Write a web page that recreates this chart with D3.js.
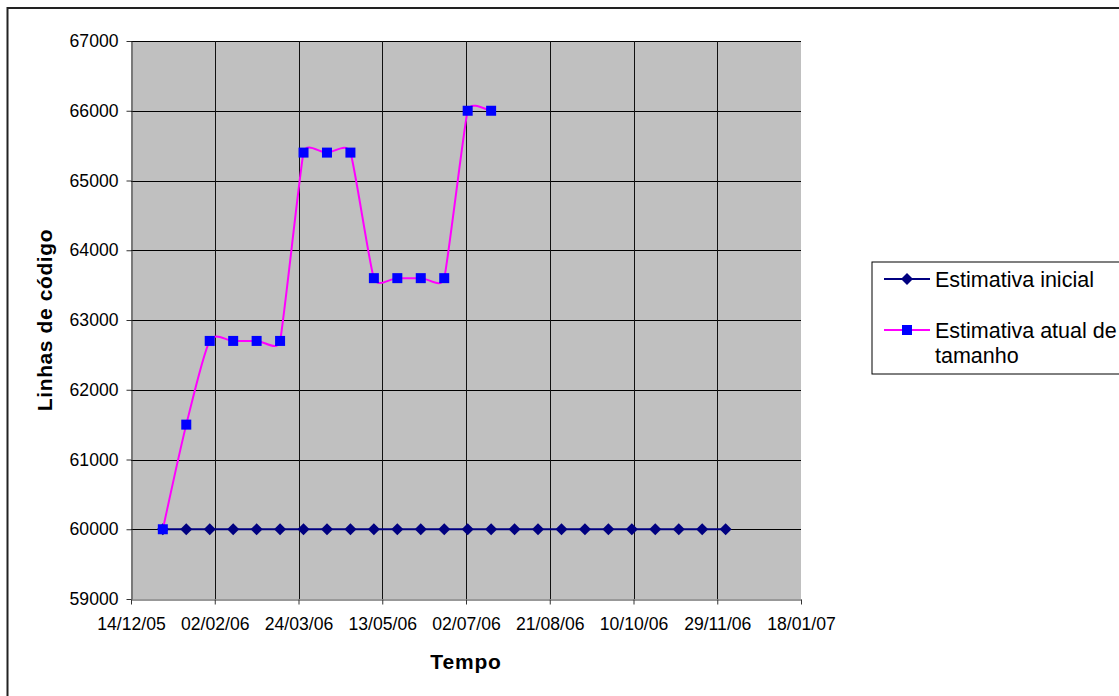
<!DOCTYPE html>
<html>
<head>
<meta charset="utf-8">
<script src="https://cdn.jsdelivr.net/npm/d3@7"></script>
<style>
  html, body { margin: 0; padding: 0; background: #fff; }
  svg { display: block; font-family: "Liberation Sans", Arial, sans-serif; }
</style>
</head>
<body>
<svg id="chart" width="1119" height="696"></svg>
<script>
// Size estimates (lines of code) sampled every two weeks
const tickLabels = ["14/12/05", "02/02/06", "24/03/06", "13/05/06", "02/07/06",
                    "21/08/06", "10/10/06", "29/11/06", "18/01/07"];
const yTicks = [59000, 60000, 61000, 62000, 63000, 64000, 65000, 66000, 67000];

const datesInicial = ["02/01/06", "16/01/06", "30/01/06", "13/02/06", "27/02/06",
                      "13/03/06", "27/03/06", "10/04/06", "24/04/06", "08/05/06",
                      "22/05/06", "05/06/06", "19/06/06", "03/07/06", "17/07/06",
                      "31/07/06", "14/08/06", "28/08/06", "11/09/06", "25/09/06",
                      "09/10/06", "23/10/06", "06/11/06", "20/11/06", "04/12/06"];
const valuesInicial = [60000, 60000, 60000, 60000, 60000, 60000, 60000, 60000, 60000,
                       60000, 60000, 60000, 60000, 60000, 60000, 60000, 60000, 60000,
                       60000, 60000, 60000, 60000, 60000, 60000, 60000];

const datesAtual = ["02/01/06", "16/01/06", "30/01/06", "13/02/06", "27/02/06",
                    "13/03/06", "27/03/06", "10/04/06", "24/04/06", "08/05/06",
                    "22/05/06", "05/06/06", "19/06/06", "03/07/06", "17/07/06"];
const valuesAtual = [60000, 61500, 62700, 62700, 62700, 62700, 65400, 65400, 65400,
                     63600, 63600, 63600, 63600, 66000, 66000];

const seriesNames = ["Estimativa inicial", "Estimativa atual de", "tamanho"];

const parse = d3.timeParse("%d/%m/%y");
const svg = d3.select("#chart");

// Outer chart frame (runs off the right and bottom edges)
svg.append("rect")
  .attr("x", 7.5).attr("y", 8).attr("width", 1140).attr("height", 720)
  .attr("fill", "#fff").attr("stroke", "#222").attr("stroke-width", 2);

const plot = { left: 131, right: 801, top: 41, bottom: 599 };

const x = d3.scaleTime()
  .domain([parse(tickLabels[0]), parse(tickLabels[tickLabels.length - 1])])
  .range([plot.left, plot.right]);
const y = d3.scaleLinear()
  .domain([yTicks[0], yTicks[yTicks.length - 1]])
  .range([plot.bottom, plot.top]);

// Plot background
svg.append("rect")
  .attr("x", plot.left).attr("y", plot.top)
  .attr("width", plot.right - plot.left).attr("height", plot.bottom - plot.top)
  .attr("fill", "#c0c0c0");

const tickDates = tickLabels.map(parse);

// Gridlines
const grid = svg.append("g");
grid.selectAll("line.h").data(yTicks.slice(1)).join("line")
  .attr("class", "h")
  .attr("x1", plot.left).attr("x2", plot.right)
  .attr("y1", d => Math.round(y(d)) + 0.5).attr("y2", d => Math.round(y(d)) + 0.5)
  .attr("stroke", "#000").attr("stroke-width", 1);
grid.selectAll("line.v").data(tickDates.slice(1, -1)).join("line")
  .attr("class", "v")
  .attr("x1", d => Math.round(x(d)) + 0.5).attr("x2", d => Math.round(x(d)) + 0.5)
  .attr("y1", plot.top).attr("y2", plot.bottom)
  .attr("stroke", "#111").attr("stroke-width", 1);

// Axes
const xAxis = d3.axisBottom(x)
  .tickValues(tickDates)
  .tickFormat(d3.timeFormat("%d/%m/%y"))
  .tickSizeInner(5).tickSizeOuter(0).tickPadding(13);
const gx = svg.append("g")
  .attr("transform", `translate(0,${plot.bottom + 0.5})`)
  .call(xAxis);
gx.select(".domain").attr("stroke", "#333");
gx.selectAll(".tick line").attr("stroke", "#333");
gx.selectAll("text").attr("font-size", 17.6).attr("fill", "#000")
  .attr("font-family", "'Liberation Sans', Arial, sans-serif");

const yAxis = d3.axisLeft(y)
  .tickValues(yTicks)
  .tickFormat(d3.format("d"))
  .tickSizeInner(5).tickSizeOuter(0).tickPadding(8);
const gy = svg.append("g")
  .attr("transform", `translate(${plot.left + 0.5},0)`)
  .call(yAxis);
gy.select(".domain").attr("stroke", "#333");
gy.selectAll(".tick line").attr("stroke", "#333");
gy.selectAll("text").attr("font-size", 17.6).attr("fill", "#000")
  .attr("font-family", "'Liberation Sans', Arial, sans-serif");

// Axis titles
svg.append("text")
  .attr("x", (plot.left + plot.right) / 2).attr("y", 669)
  .attr("text-anchor", "middle")
  .attr("font-size", 21).attr("font-weight", "bold").attr("letter-spacing", 0.8)
  .text("Tempo");
svg.append("text")
  .attr("transform", `translate(52,${(plot.top + plot.bottom) / 2}) rotate(-90)`)
  .attr("text-anchor", "middle")
  .attr("font-size", 21).attr("font-weight", "bold").attr("letter-spacing", 0.6)
  .text("Linhas de código");

// Series data
const inicial = datesInicial.map((d, i) => ({ date: parse(d), value: valuesInicial[i] }));
const atual = datesAtual.map((d, i) => ({ date: parse(d), value: valuesAtual[i] }));

// Diamond marker, 12px across
const diamondPath = "M0,-6L6,0L0,6L-6,0Z";

// Spreadsheet-style smoothing: Catmull-Rom tangents (1/6 of the neighbour
// chord) limited to half of the shorter adjacent segment, so short flat runs
// only wobble slightly next to big jumps.
function smoothPath(pts) {
  const n = pts.length;
  const dist = (a, b) => Math.hypot(b[0] - a[0], b[1] - a[1]);
  const tan = pts.map((p, i) => {
    const prev = pts[Math.max(0, i - 1)];
    const next = pts[Math.min(n - 1, i + 1)];
    let tx = (next[0] - prev[0]) / 6, ty = (next[1] - prev[1]) / 6;
    const len = Math.hypot(tx, ty);
    const segs = [];
    if (i > 0) segs.push(dist(pts[i - 1], p));
    if (i < n - 1) segs.push(dist(p, pts[i + 1]));
    const lim = Math.min(...segs) / 2;
    if (len > lim && len > 0) { tx *= lim / len; ty *= lim / len; }
    return [tx, ty];
  });
  const path = d3.path();
  path.moveTo(pts[0][0], pts[0][1]);
  for (let i = 0; i < n - 1; i++) {
    const a = pts[i], b = pts[i + 1];
    path.bezierCurveTo(a[0] + tan[i][0], a[1] + tan[i][1],
                       b[0] - tan[i + 1][0], b[1] - tan[i + 1][1],
                       b[0], b[1]);
  }
  return path.toString();
}

// Initial estimate: straight navy line with diamonds
svg.append("path")
  .datum(inicial)
  .attr("fill", "none").attr("stroke", "#000080").attr("stroke-width", 2)
  .attr("d", d3.line().x(d => x(d.date)).y(d => y(d.value)));
svg.append("g").selectAll("path").data(inicial).join("path")
  .attr("transform", d => `translate(${x(d.date)},${y(d.value)})`)
  .attr("d", diamondPath)
  .attr("fill", "#000080");

// Current estimate: smoothed magenta line with blue squares
svg.append("path")
  .datum(atual)
  .attr("fill", "none").attr("stroke", "#ff00ff").attr("stroke-width", 2)
  .attr("d", d => smoothPath(d.map(p => [x(p.date), y(p.value)])));
svg.append("g").selectAll("rect").data(atual).join("rect")
  .attr("x", d => x(d.date) - 5).attr("y", d => y(d.value) - 5)
  .attr("width", 10).attr("height", 10)
  .attr("fill", "#0000ff");

// Legend
const lg = svg.append("g");
lg.append("rect")
  .attr("x", 872).attr("y", 262).attr("width", 300).attr("height", 112)
  .attr("fill", "#fff").attr("stroke", "#000").attr("stroke-width", 1);

lg.append("line")
  .attr("x1", 884).attr("x2", 930).attr("y1", 279).attr("y2", 279)
  .attr("stroke", "#000080").attr("stroke-width", 2);
lg.append("path")
  .attr("transform", "translate(907,279)")
  .attr("d", diamondPath).attr("fill", "#000080");
lg.append("text")
  .attr("x", 935).attr("y", 286.5)
  .attr("font-size", 21.5).text(seriesNames[0]);

lg.append("line")
  .attr("x1", 884).attr("x2", 930).attr("y1", 330).attr("y2", 330)
  .attr("stroke", "#ff00ff").attr("stroke-width", 2);
lg.append("rect")
  .attr("x", 902).attr("y", 325).attr("width", 10).attr("height", 10)
  .attr("fill", "#0000ff");
lg.append("text")
  .attr("x", 935).attr("y", 337.5)
  .attr("font-size", 21.5).text(seriesNames[1]);
lg.append("text")
  .attr("x", 935).attr("y", 362.5)
  .attr("font-size", 21.5).text(seriesNames[2]);
</script>
</body>
</html>
